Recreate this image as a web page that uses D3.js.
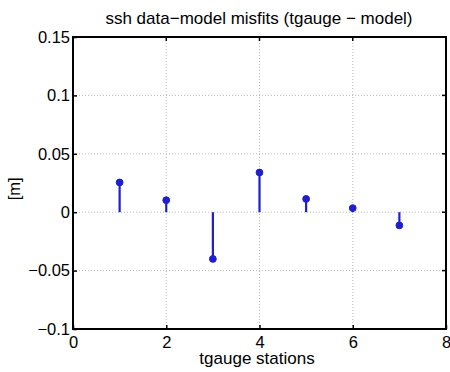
<!DOCTYPE html>
<html>
<head>
<meta charset="utf-8">
<script src="https://cdn.jsdelivr.net/npm/d3@7"></script>
<style>
  body { margin: 0; background: #fff; }
  svg { font-family: "Liberation Sans", Helvetica, Arial, sans-serif; }
</style>
</head>
<body>
<div id="chart"></div>
<script>
// station numbers and misfits (tgauge - model), metres
const stations = [1, 2, 3, 4, 5, 6, 7];
const misfits = [0.0255, 0.0103, -0.0400, 0.0340, 0.0114, 0.0035, -0.0113];
const xTicks = [0, 2, 4, 6, 8];
const yTicks = [-0.1, -0.05, 0, 0.05, 0.1, 0.15];
const yTickLabels = ["\u22120.1", "\u22120.05", "0", "0.05", "0.1", "0.15"];

const width = 450, height = 372;
const margin = { top: 37, right: 4, bottom: 43, left: 73 };

const svg = d3.select("#chart").append("svg")
    .attr("width", width)
    .attr("height", height);

const x = d3.scaleLinear().domain([0, 8]).range([margin.left, width - margin.right]);
const y = d3.scaleLinear().domain([-0.1, 0.15]).range([height - margin.bottom, margin.top]);

// grid
const grid = svg.append("g")
    .attr("stroke", "#b8b8b8")
    .attr("stroke-width", 1)
    .attr("stroke-dasharray", "1,2");
grid.selectAll("line.gx").data(xTicks.slice(1, -1)).join("line")
    .attr("x1", d => x(d)).attr("x2", d => x(d))
    .attr("y1", y(0.15)).attr("y2", y(-0.1));
grid.selectAll("line.gy").data(yTicks.slice(1, -1)).join("line")
    .attr("y1", d => y(d)).attr("y2", d => y(d))
    .attr("x1", x(0)).attr("x2", x(8));

// axes with inward ticks
const xAxis = d3.axisBottom(x).tickValues(xTicks).tickSize(-4).tickPadding(7);
const yAxis = d3.axisLeft(y).tickValues(yTicks).tickSize(-4).tickPadding(3)
    .tickFormat((d, i) => yTickLabels[i]);

svg.append("g")
    .attr("transform", `translate(0,${y(-0.1)})`)
    .call(xAxis)
    .call(g => g.select(".domain").remove())
    .call(g => g.selectAll("line").attr("stroke", "#000").attr("stroke-width", 1.5))
    .call(g => g.selectAll("text").attr("font-size", 16.5).attr("fill", "#000")
        .attr("font-family", "Liberation Sans, Helvetica, Arial, sans-serif"));

svg.append("g")
    .attr("transform", `translate(${x(0)},0)`)
    .call(yAxis)
    .call(g => g.select(".domain").remove())
    .call(g => g.selectAll("line").attr("stroke", "#000").attr("stroke-width", 1.5))
    .call(g => g.selectAll("text").attr("font-size", 16.5).attr("fill", "#000")
        .attr("font-family", "Liberation Sans, Helvetica, Arial, sans-serif"));

// top and right ticks
svg.append("g").selectAll("line").data(xTicks).join("line")
    .attr("x1", d => x(d)).attr("x2", d => x(d))
    .attr("y1", y(0.15)).attr("y2", y(0.15) + 4)
    .attr("stroke", "#000").attr("stroke-width", 1.5);
svg.append("g").selectAll("line").data(yTicks).join("line")
    .attr("y1", d => y(d)).attr("y2", d => y(d))
    .attr("x1", x(8)).attr("x2", x(8) - 4)
    .attr("stroke", "#000").attr("stroke-width", 1.5);

// frame
svg.append("rect")
    .attr("x", x(0)).attr("y", y(0.15))
    .attr("width", x(8) - x(0)).attr("height", y(-0.1) - y(0.15))
    .attr("fill", "none").attr("stroke", "#000").attr("stroke-width", 2);

// stems
const data = stations.map((s, i) => ({ s, v: misfits[i] }));
svg.append("g").selectAll("line").data(data).join("line")
    .attr("x1", d => x(d.s)).attr("x2", d => x(d.s))
    .attr("y1", y(0)).attr("y2", d => y(d.v))
    .attr("stroke", "#1f1fd0").attr("stroke-width", 2.2);
svg.append("g").selectAll("circle").data(data).join("circle")
    .attr("cx", d => x(d.s)).attr("cy", d => y(d.v))
    .attr("r", 3.4)
    .attr("fill", "#1f1fd0").attr("stroke", "#1f1fd0").attr("stroke-width", 1);

// labels
svg.append("text")
    .attr("x", 259).attr("y", 24)
    .attr("text-anchor", "middle").attr("font-size", 17)
    .text("ssh data\u2212model misfits (tgauge \u2212 model)");
svg.append("text")
    .attr("x", 257).attr("y", 364)
    .attr("text-anchor", "middle").attr("font-size", 17)
    .text("tgauge stations");
svg.append("text")
    .attr("transform", `translate(20,${y(0.02)}) rotate(-90)`)
    .attr("text-anchor", "middle").attr("font-size", 16.5)
    .text("[m]");
</script>
</body>
</html>
